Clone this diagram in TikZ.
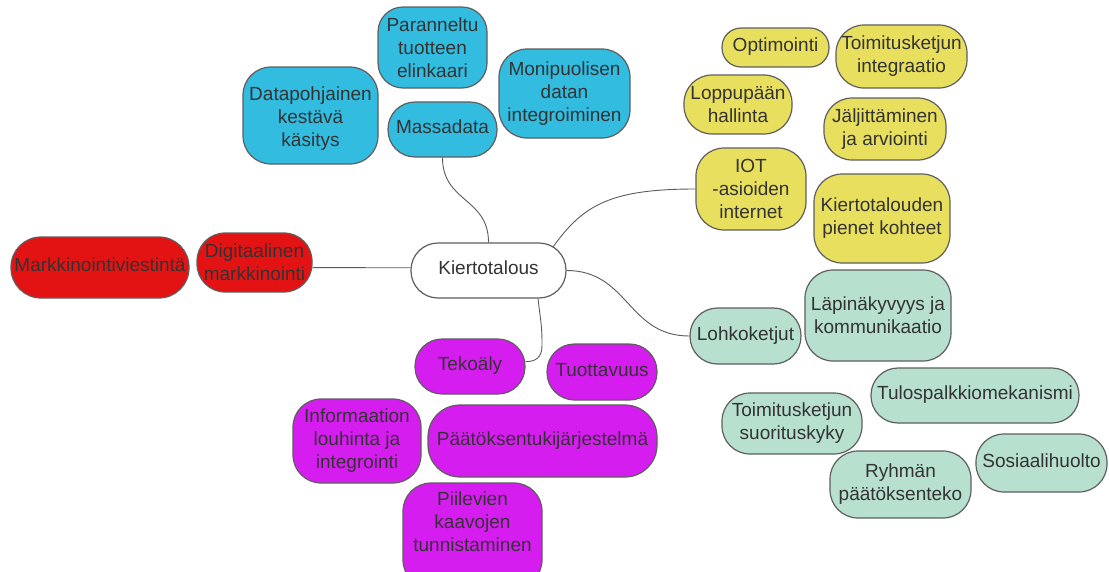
\documentclass[tikz,border=0pt]{standalone}
\usepackage{fontspec}
\setmainfont{Liberation Sans}
\usetikzlibrary{calc}

\definecolor{cblue}{RGB}{49,188,224}
\definecolor{cyellow}{RGB}{233,223,94}
\definecolor{cred}{RGB}{227,19,19}
\definecolor{cmagenta}{RGB}{213,29,239}
\definecolor{cgreen}{RGB}{183,224,207}
\definecolor{txt}{RGB}{51,51,51}
\definecolor{edge}{RGB}{94,94,94}
\definecolor{wire}{RGB}{90,90,90}

\tikzset{
  bub/.style={draw=edge, line width=1.2pt, align=center, inner sep=0pt,
    text=txt, font=\fontsize{19}{23}\selectfont, rounded corners=28pt},
  oneline/.style={text height=14pt, text depth=6pt},
  sz/.style 2 args={minimum width=#1pt, minimum height=#2pt},
  bluebox/.style={bub, fill=cblue},
  yellowbox/.style={bub, fill=cyellow},
  redbox/.style={bub, fill=cred},
  magbox/.style={bub, fill=cmagenta},
  greenbox/.style={bub, fill=cgreen},
  looselabel/.style={text=txt, font=\fontsize{19}{23}\selectfont, align=center, inner sep=0pt},
  link/.style={draw=wire, line width=0.9pt}
}

\begin{document}
\begin{tikzpicture}[x=1pt, y=-1pt]
\useasboundingbox (0,0) rectangle (1109,571);
\clip (0,0) rectangle (1109,571);

% central topic
\node[bub, oneline, fill=white, sz={155}{55}, rounded corners=27pt] (kiertotalous) at (488.5,270.5) {Kiertotalous};

% data branch
\node[bluebox, sz={109}{81}, rounded corners=25pt] (paranneltu) at (432.5,47.5) {Paranneltu\\tuotteen\\elinkaari};
\node[bluebox, sz={131}{89}] (monipuolisen) at (564.5,93.5) {Monipuolisen\\datan\\integroiminen};
\node[bluebox, sz={135}{97}] (datapohjainen) at (310.5,115.5) {};
\node[looselabel] (datapohjainentext) at (310.5,119) {Datapohjainen\\kestävä\\käsitys};
\node[bluebox, oneline, sz={109}{55}, rounded corners=27pt] (massadata) at (442.5,129.5) {Massadata};

% marketing branch
\node[redbox, oneline, sz={178}{61}, rounded corners=30pt] (markkinointiviestinta) at (100,267.5) {Markkinointiviestintä};
\node[redbox, sz={115}{59}] (digitaalinen) at (254.5,262.5) {Digitaalinen\\markkinointi};

% IoT branch
\node[yellowbox, oneline, sz={107}{39}, rounded corners=19pt] (optimointi) at (775.5,47.5) {Optimointi};
\node[yellowbox, sz={131}{63}] (integraatio) at (901.5,56.5) {Toimitusketjun\\integraatio};
\node[yellowbox, sz={108}{59}] (loppupaan) at (738,104.5) {Loppupään\\hallinta};
\node[yellowbox, sz={122}{62}] (jaljittaminen) at (885,129) {Jäljittäminen\\ja arviointi};
\node[yellowbox, sz={110}{82}] (iot) at (751,189) {IOT\\-asioiden\\internet};
\node[yellowbox, sz={136}{89}] (pienet) at (882,218.5) {Kiertotalouden\\pienet kohteet};

% blockchain branch
\node[greenbox, sz={146}{91}] (lapinakyvyys) at (878,315.5) {Läpinäkyvyys ja\\kommunikaatio};
\node[greenbox, oneline, sz={111}{56}, rounded corners=27.5pt] (lohkoketjut) at (745.5,336) {Lohkoketjut};
\node[greenbox, oneline, sz={208}{55}, rounded corners=27pt] (tulospalkkio) at (975,395.5) {Tulospalkkiomekanismi};
\node[greenbox, sz={140}{61}] (suorituskyky) at (792,423.5) {Toimitusketjun\\suorituskyky};
\node[greenbox, sz={141}{67}] (ryhman) at (900.5,484.5) {Ryhmän\\päätöksenteko};
\node[greenbox, oneline, sz={131}{58}] (sosiaalihuolto) at (1041.5,463) {Sosiaalihuolto};

% AI branch
\node[magbox, oneline, sz={110}{55}, rounded corners=27pt] (tekoaly) at (470,366.5) {Tekoäly};
\node[magbox, oneline, sz={110}{56}, rounded corners=27.5pt] (tuottavuus) at (602,372) {Tuottavuus};
\node[magbox, sz={128}{84}] (informaation) at (357,441) {Informaation\\louhinta ja\\integrointi};
\node[magbox, oneline, sz={229}{72}, rounded corners=32pt] (paatoksentuki) at (542.5,441) {Päätöksentukijärjestelmä};
\node[magbox, sz={139}{105}] (piilevien) at (472.5,535.5) {};
\node[looselabel] (piilevientext) at (472.5,522) {Piilevien\\kaavojen\\tunnistaminen};

% connectors from the central topic
\draw[link] (massadata.south) .. controls +(0,45) and +(0,-45) .. (kiertotalous.north);
\draw[link] (digitaalinen.-5) .. controls +(50,0) and +(-50,0) .. (kiertotalous.178);
\draw[link] ($(kiertotalous.center)+(64.5,-23.5)$) .. controls +(30,-42) and +(-85,0) .. (iot.west);
\draw[link] (kiertotalous.east) .. controls +(62,0) and +(-62,0) .. (lohkoketjut.west);
\draw[link] ($(kiertotalous.south)+(49.5,0)$) .. controls +(3,25) and +(0,-20) .. ++(4,47)
  .. controls +(0,12) and +(10,0) .. (tekoaly.5);
\end{tikzpicture}
\end{document}
